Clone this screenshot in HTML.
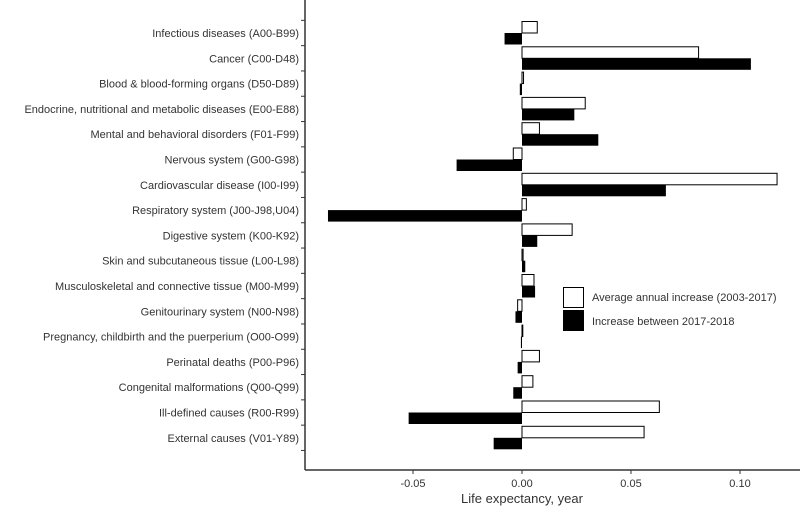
<!DOCTYPE html>
<html><head><meta charset="utf-8"><style>
body{margin:0;background:#fff}
svg text{font-family:"Liberation Sans",Arial,sans-serif;fill:#333}
</style></head><body>
<svg id="c" width="800" height="507" xmlns="http://www.w3.org/2000/svg"></svg>
<script>
const categories=["Infectious diseases (A00-B99)","Cancer (C00-D48)","Blood & blood-forming organs  (D50-D89)","Endocrine, nutritional and metabolic diseases (E00-E88)","Mental and behavioral disorders (F01-F99)","Nervous system (G00-G98)","Cardiovascular disease (I00-I99)","Respiratory system (J00-J98,U04)","Digestive system (K00-K92)","Skin and subcutaneous tissue (L00-L98)","Musculoskeletal and connective tissue (M00-M99)","Genitourinary system (N00-N98)","Pregnancy, childbirth and the puerperium (O00-O99)","Perinatal deaths (P00-P96)","Congenital malformations (Q00-Q99)","Ill-defined causes (R00-R99)","External causes (V01-Y89)"];
const avgIncrease=[0.007,0.081,0.0007,0.029,0.008,-0.004,0.117,0.002,0.023,0.0005,0.0055,-0.002,0.0003,0.008,0.005,0.063,0.056];
const increase1718=[-0.008,0.105,-0.001,0.024,0.035,-0.030,0.066,-0.089,0.007,0.0015,0.006,-0.003,-0.0005,-0.002,-0.004,-0.052,-0.013];
const xTicks=[-0.05,0,0.05,0.10];
const xTickLabels=["-0.05","0.00","0.05","0.10"];
const svg=document.getElementById('c');
const NS="http://www.w3.org/2000/svg";
const x=v=>522+v*2180;
const yc=i=>33+i*25.3;
function mk(tag,attrs,parent){const e=document.createElementNS(NS,tag);for(const k in attrs)e.setAttribute(k,attrs[k]);(parent||svg).appendChild(e);return e;}
let ax=mk('line',{x1:305,y1:0,x2:305,y2:470,stroke:'#333','stroke-width':1.5});


let bx=mk('line',{x1:305,y1:470,x2:800,y2:470,stroke:'#333','stroke-width':1.5});


for(let i=0;i<=categories.length;i++){
  const ty=yc(i)-12.65;
  let t=mk('line',{x1:301,y1:ty,x2:305,y2:ty,stroke:'#333'});
  
  
}
categories.forEach((c,i)=>{
  let l=mk('text',{x:299,y:yc(i)+4,'text-anchor':'end','font-size':11});
  l.textContent=c;
  
  
  const a=avgIncrease[i],b=increase1718[i];
  let r1=mk('rect',{x:Math.min(x(0),x(a)),y:yc(i)-11.5,width:Math.max(Math.abs(x(a)-x(0)),0.8),height:11.5,fill:'#fff',stroke:'#000','stroke-width':1});
  
  
  let r2=mk('rect',{x:Math.min(x(0),x(b)),y:yc(i),width:Math.max(Math.abs(x(b)-x(0)),1),height:11.5,fill:'#000'});
  
  
});
xTicks.forEach((v,i)=>{
  let t=mk('line',{x1:x(v),y1:470,x2:x(v),y2:474,stroke:'#333'});
  
  
  let l=mk('text',{x:x(v),y:487,'text-anchor':'middle','font-size':11,fill:'#444'});
  l.textContent=xTickLabels[i];
  
  
});
let xt=mk('text',{x:522,y:503,'text-anchor':'middle','font-size':13});
xt.textContent="Life expectancy, year";


let lg=mk('g',{});


let k1=mk('rect',{x:563.5,y:287.5,width:20,height:20,fill:'#fff',stroke:'#000'},lg);


let t1=mk('text',{x:592,y:301,'font-size':11},lg);
t1.textContent="Average annual increase (2003-2017)";


let k2=mk('rect',{x:563,y:310,width:21,height:21,fill:'#000'},lg);


let t2=mk('text',{x:592,y:325,'font-size':11},lg);
t2.textContent="Increase between 2017-2018";


</script>
</body></html>
